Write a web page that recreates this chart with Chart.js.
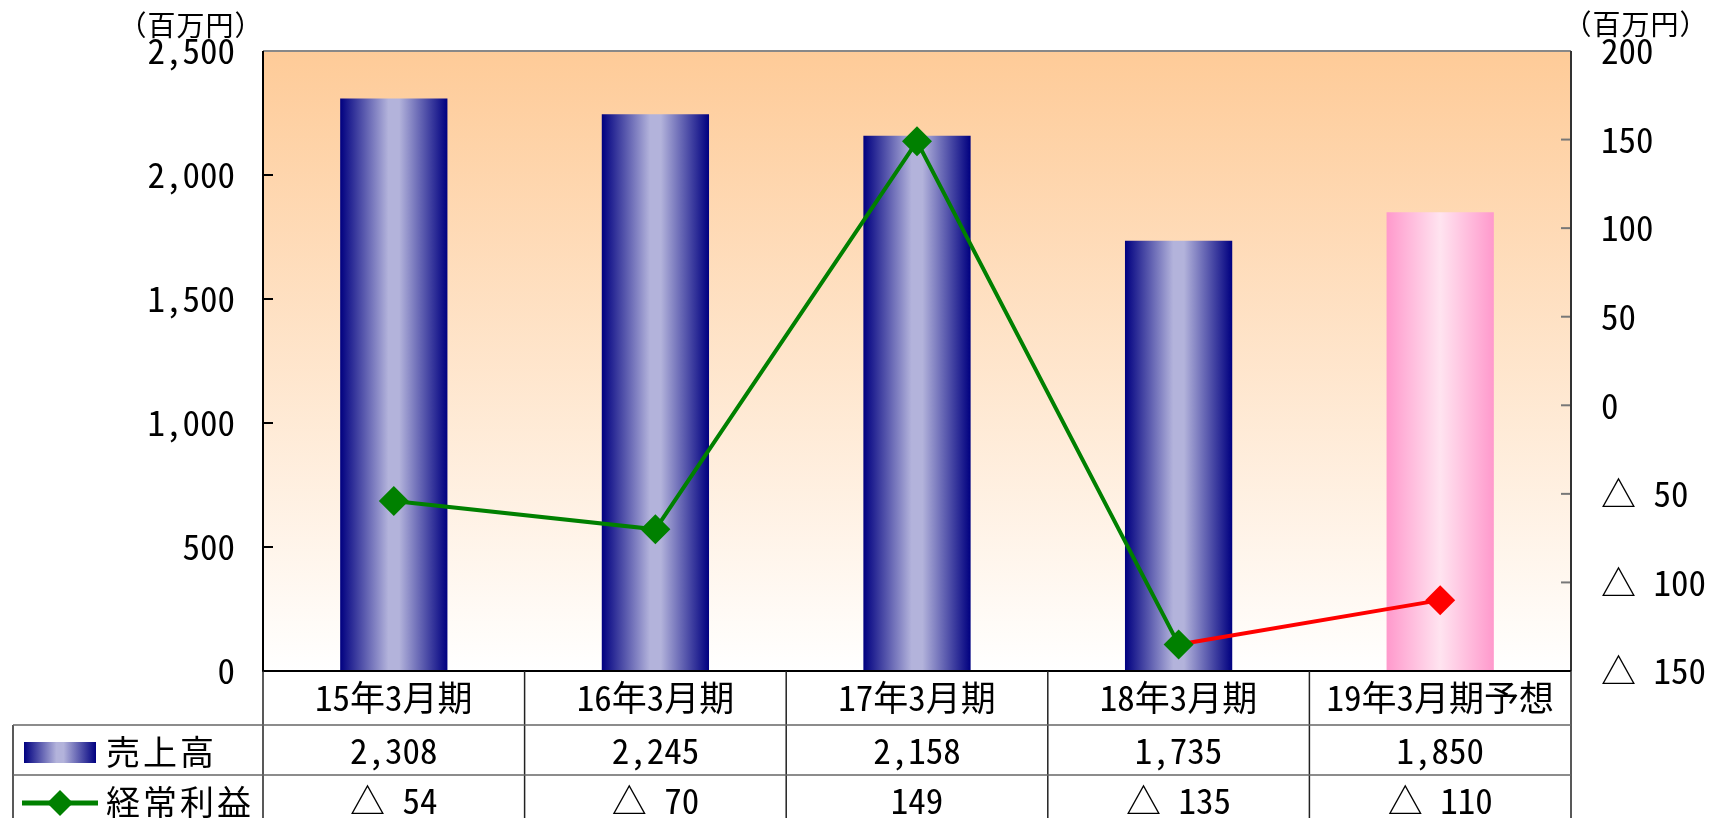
<!DOCTYPE html>
<html lang="ja">
<head>
<meta charset="utf-8">
<script src="https://cdn.jsdelivr.net/npm/chart.js@4.4.0/dist/chart.umd.min.js"></script>
<style>
html, body { margin: 0; padding: 0; background: #fff; }
canvas { display: block; }
</style>
</head>
<body>
<canvas id="chart" width="1710" height="818"></canvas>
<script>
// data
const categories = ["15年3月期", "16年3月期", "17年3月期", "18年3月期", "19年3月期予想"];
const salesValues = [2308, 2245, 2158, 1735, 1850];
const profitValues = [-54, -70, 149, -135, -110];
const salesTicks = [0, 500, 1000, 1500, 2000, 2500];
const profitTicks = [-150, -100, -50, 0, 50, 100, 150, 200];
const seriesLabels = ["売上高", "経常利益"];
const unitLabel = "（百万円）";
const forecastIndex = 4;

// monospaced CJK face: half-width digits, full-width kana/kanji
const FONT = "'Noto Sans Mono CJK JP', 'Noto Sans CJK JP', monospace";
const BAR_RATIO = 0.41;

const fmtSales = (v) => v.toLocaleString("en-US");
const fmtProfit = (v) => (v < 0 ? "△ " + -v : String(v));

// horizontal "cylinder" gradient for a bar
function barGradient(ctx, cx, half, forecast) {
  const g = ctx.createLinearGradient(cx - half, 0, cx + half, 0);
  if (forecast) {
    g.addColorStop(0, "#FF99CC");
    g.addColorStop(0.5, "#FFE4F0");
    g.addColorStop(1, "#FF99CC");
  } else {
    g.addColorStop(0, "#000080");
    g.addColorStop(0.45, "#B3B3DB");
    g.addColorStop(0.55, "#B3B3DB");
    g.addColorStop(1, "#000080");
  }
  return g;
}

const tablePlugin = {
  id: "tablePlugin",
  beforeDraw(chart) {
    const { ctx, chartArea: a } = chart;
    const g = ctx.createLinearGradient(0, a.top, 0, a.bottom);
    g.addColorStop(0, "#FECB98");
    g.addColorStop(1, "#FFFFFF");
    ctx.save();
    ctx.fillStyle = g;
    ctx.fillRect(a.left, a.top, a.right - a.left, a.bottom - a.top);
    ctx.restore();
  },
  afterDatasetsDraw(chart) {
    const { ctx, chartArea: a, scales } = chart;
    ctx.save();
    // inner tick marks
    ctx.lineWidth = 2;
    ctx.strokeStyle = "#000";
    salesTicks.forEach((v) => {
      const y = scales.y.getPixelForValue(v);
      ctx.beginPath(); ctx.moveTo(a.left, y); ctx.lineTo(a.left + 10, y); ctx.stroke();
    });
    ctx.strokeStyle = "#777";
    profitTicks.forEach((v) => {
      const y = scales.y1.getPixelForValue(v);
      ctx.beginPath(); ctx.moveTo(a.right - 10, y); ctx.lineTo(a.right, y); ctx.stroke();
    });
    // plot border
    ctx.strokeStyle = "#888";
    ctx.beginPath(); ctx.moveTo(a.left, a.top); ctx.lineTo(a.right, a.top); ctx.stroke();
    ctx.strokeStyle = "#333";
    ctx.beginPath(); ctx.moveTo(a.right, a.top); ctx.lineTo(a.right, a.bottom); ctx.stroke();
    ctx.strokeStyle = "#000";
    ctx.beginPath();
    ctx.moveTo(a.left, a.top); ctx.lineTo(a.left, a.bottom); ctx.lineTo(a.right, a.bottom);
    ctx.stroke();
    ctx.restore();
  },
  afterDraw(chart) {
    const { ctx, chartArea: a, scales } = chart;
    const colW = (a.right - a.left) / categories.length;
    const r1 = a.bottom + 54, r2 = r1 + 50, r3 = r2 + 50;
    const tableLeft = 13;
    ctx.save();
    // grid of the data table
    ctx.lineWidth = 1.5;
    ctx.strokeStyle = "#222";
    for (let i = 0; i <= categories.length; i++) {
      const x = a.left + i * colW;
      ctx.beginPath(); ctx.moveTo(x, a.bottom); ctx.lineTo(x, r3); ctx.stroke();
    }
    ctx.beginPath(); ctx.moveTo(tableLeft, r1); ctx.lineTo(tableLeft, r3); ctx.stroke();
    ctx.strokeStyle = "#666";
    [r1, r2].forEach((y) => {
      ctx.beginPath(); ctx.moveTo(tableLeft, y); ctx.lineTo(a.right, y); ctx.stroke();
    });

    // values
    ctx.fillStyle = "#000";
    ctx.textAlign = "center";
    ctx.textBaseline = "middle";
    ctx.font = "35px " + FONT;
    categories.forEach((c, i) => {
      const x = scales.x.getPixelForValue(i);
      ctx.fillText(fmtSales(salesValues[i]), x, (r1 + r2) / 2 + 1);
      ctx.fillText(fmtProfit(profitValues[i]), x, (r2 + r3) / 2 + 1);
    });

    // legend cells
    const sw = { x: 24, y: r1 + 17, w: 72, h: 21 };
    ctx.fillStyle = barGradient(ctx, sw.x + sw.w / 2, sw.w / 2, false);
    ctx.fillRect(sw.x, sw.y, sw.w, sw.h);
    const ly = (r2 + r3) / 2 + 3;
    ctx.strokeStyle = "#008000";
    ctx.lineWidth = 5;
    ctx.beginPath(); ctx.moveTo(22, ly); ctx.lineTo(98, ly); ctx.stroke();
    ctx.fillStyle = "#008000";
    ctx.beginPath();
    ctx.moveTo(60, ly - 13); ctx.lineTo(73, ly); ctx.lineTo(60, ly + 13); ctx.lineTo(47, ly);
    ctx.closePath(); ctx.fill();

    ctx.fillStyle = "#000";
    ctx.textAlign = "left";
    ctx.font = "34px " + FONT;
    ctx.letterSpacing = "3px";
    ctx.fillText(seriesLabels[0], 106, (r1 + r2) / 2 + 2);
    ctx.fillText(seriesLabels[1], 106, (r2 + r3) / 2 + 2);

    // unit labels
    ctx.textAlign = "center";
    ctx.font = "28px " + FONT;
    ctx.letterSpacing = "1px";
    ctx.fillText(unitLabel, a.left - 72, 25);
    ctx.fillText(unitLabel, a.right + 65, 24);
    ctx.letterSpacing = "0px";
    ctx.restore();
  },
};

const ctx = document.getElementById("chart").getContext("2d");
new Chart(ctx, {
  type: "bar",
  data: {
    labels: categories,
    datasets: [
      {
        type: "line",
        label: seriesLabels[1],
        data: profitValues,
        yAxisID: "y1",
        order: 0,
        borderColor: "#008000",
        borderWidth: 4,
        segment: {
          borderColor: (c) => (c.p1DataIndex === forecastIndex ? "#FF0000" : "#008000"),
        },
        pointStyle: "rectRot",
        pointRadius: 15,
        pointBorderWidth: 0,
        pointBackgroundColor: profitValues.map((v, i) => (i === forecastIndex ? "#FF0000" : "#008000")),
        tension: 0,
      },
      {
        type: "bar",
        label: seriesLabels[0],
        data: salesValues,
        yAxisID: "y",
        order: 1,
        barPercentage: BAR_RATIO,
        categoryPercentage: 1,
        backgroundColor: (c) => {
          const chart = c.chart;
          if (!chart.chartArea || c.dataIndex === undefined) return "#000080";
          const xs = chart.scales.x;
          const cx = xs.getPixelForValue(c.dataIndex);
          const half = (xs.width / categories.length) * BAR_RATIO / 2;
          return barGradient(chart.ctx, cx, half, c.dataIndex === forecastIndex);
        },
      },
    ],
  },
  options: {
    responsive: false,
    animation: false,
    layout: { padding: { top: 51, left: 0, right: 0, bottom: 0 } },
    plugins: { legend: { display: false }, tooltip: { enabled: false } },
    scales: {
      x: {
        grid: { display: false, drawTicks: false },
        border: { display: false },
        ticks: { color: "#000", font: { family: FONT, size: 35 }, padding: 6, maxRotation: 0 },
        afterFit: (s) => { s.height = 147; },
      },
      y: {
        position: "left",
        min: salesTicks[0],
        max: salesTicks[salesTicks.length - 1],
        grid: { display: false, drawTicks: false },
        border: { display: false },
        ticks: {
          stepSize: salesTicks[1] - salesTicks[0],
          color: "#000",
          font: { family: FONT, size: 35 },
          padding: 28,
          callback: (v) => fmtSales(v),
        },
        afterFit: (s) => { s.width = 263; },
      },
      y1: {
        position: "right",
        min: profitTicks[0],
        max: profitTicks[profitTicks.length - 1],
        grid: { display: false, drawTicks: false },
        border: { display: false },
        ticks: {
          stepSize: profitTicks[1] - profitTicks[0],
          color: "#000",
          font: { family: FONT, size: 35 },
          padding: 30,
          callback: (v) => fmtProfit(v),
        },
        afterFit: (s) => { s.width = 139; },
      },
    },
  },
  plugins: [tablePlugin],
});
</script>
</body>
</html>
